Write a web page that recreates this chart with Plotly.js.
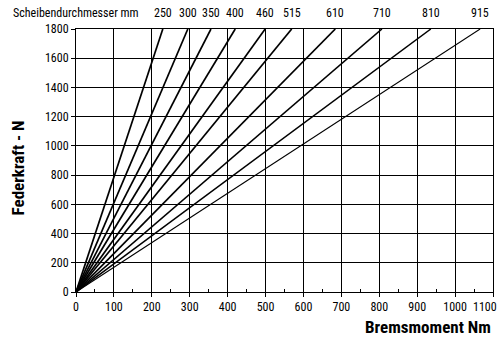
<!DOCTYPE html>
<html>
<head>
<meta charset="utf-8">
<script src="https://cdn.plot.ly/plotly-3.0.1.min.js"></script>
<style>html,body{margin:0;padding:0;background:#fff;}#chart{width:502px;height:340px;}</style>
</head>
<body>
<div id="chart"></div>
<script>
// Disc diameters (mm) labelling each line
const diameters = ["250", "300", "350", "400", "460", "515", "610", "710", "810", "915"];
// Braking torque (Nm) at which each line reaches 1800 N spring force
const torqueAt1800 = [229, 295, 356, 420, 499, 569, 684, 807, 936, 1066];
const forceMax = 1800;
const xTicks = [0, 100, 200, 300, 400, 500, 600, 700, 800, 900, 1000, 1100];
const yTicks = [0, 200, 400, 600, 800, 1000, 1200, 1400, 1600, 1800];
const lineWidths = [1.7, 1.7, 1.7, 1.7, 1.7, 1.7, 1.7, 1.6, 1.5, 1.1];

const FONT = "Liberation Sans Narrow, Arial Narrow, Roboto Condensed, Roboto, Liberation Sans, sans-serif";

const traces = diameters.map((d, i) => ({
  type: "scatter",
  mode: "lines",
  x: [0, torqueAt1800[i]],
  y: [0, forceMax],
  line: {color: "#000", width: lineWidths[i]},
  hoverinfo: "skip",
  showlegend: false
}));

const lastTick = xTicks[xTicks.length - 1];
const annotations = diameters.map((d, i) => ({
  x: torqueAt1800[i], y: forceMax, xref: "x", yref: "y",
  text: d, showarrow: false, yanchor: "bottom", xanchor: "center", yshift: 7,
  font: {family: FONT, size: 12, color: "#000"}
}));
annotations.push({
  x: lastTick, y: 0, xref: "x", yref: "y",
  text: String(lastTick), showarrow: false, xanchor: "right", yanchor: "top",
  xshift: 6, yshift: -6,
  font: {family: FONT, size: 12, color: "#000"}
});
annotations.push({
  x: -0.155, y: 1, xref: "paper", yref: "paper",
  text: "Scheibendurchmesser mm", showarrow: false, xanchor: "left", yanchor: "bottom", yshift: 7,
  font: {family: FONT, size: 12, color: "#000"}
});
annotations.push({
  x: 1, y: -0.133, xref: "paper", yref: "paper",
  text: "<b>Bremsmoment Nm</b>", showarrow: false, xanchor: "right", yanchor: "middle",
  font: {family: FONT, size: 17, color: "#000"}
});
annotations.push({
  x: -0.139, y: 0.47, xref: "paper", yref: "paper",
  text: "<b>Federkraft - N</b>", showarrow: false, xanchor: "center", yanchor: "middle",
  textangle: -90,
  font: {family: FONT, size: 17, color: "#000"}
});

const layout = {
  width: 502, height: 340,
  margin: {l: 76, r: 9, t: 29, b: 48},
  paper_bgcolor: "#fff", plot_bgcolor: "#fff",
  font: {family: FONT, size: 12, color: "#000"},
  showlegend: false,
  xaxis: {
    range: [0, 1100], tickmode: "array", tickvals: xTicks,
    ticktext: xTicks.map(v => v === lastTick ? "" : String(v)),
    showgrid: true, gridcolor: "#000", gridwidth: 1,
    zeroline: false, showline: true, linecolor: "#000", linewidth: 1, mirror: true,
    ticks: "outside", ticklen: 4, tickcolor: "#000",
    minor: {dtick: 50, ticks: "inside", ticklen: 3, tickcolor: "#000", showgrid: false},
    tickfont: {family: FONT, size: 12},
    fixedrange: true
  },
  yaxis: {
    range: [0, 1800], tickmode: "array", tickvals: yTicks, ticktext: yTicks.map(String),
    showgrid: true, gridcolor: "#000", gridwidth: 1,
    zeroline: false, showline: true, linecolor: "#000", linewidth: 1, mirror: true,
    ticks: "outside", ticklen: 4, tickcolor: "#000",
    tickfont: {family: FONT, size: 12},
    fixedrange: true
  },
  annotations: annotations
};

Plotly.newPlot("chart", traces, layout, {staticPlot: true});
</script>
</body>
</html>
